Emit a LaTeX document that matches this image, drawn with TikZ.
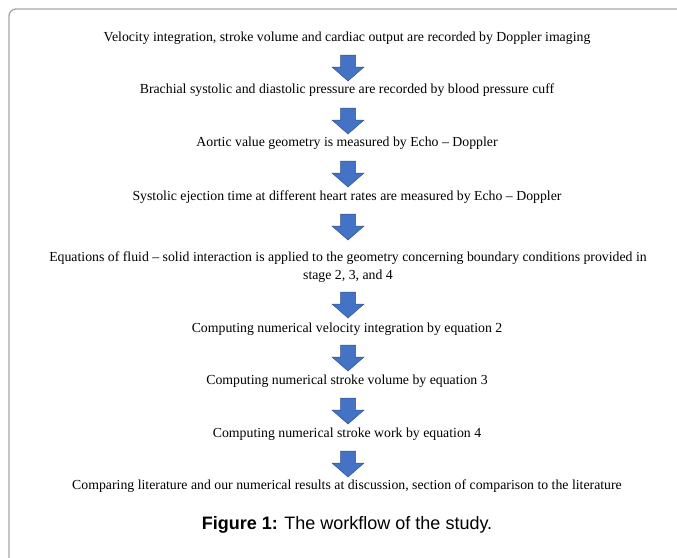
\documentclass[tikz,border=0pt]{standalone}
\usepackage{fontspec}
\setmainfont{Liberation Serif}
\newfontfamily\capfont{Liberation Sans}
\usetikzlibrary{calc}
\definecolor{arrowblue}{HTML}{4472C4}
\definecolor{arrowedge}{HTML}{2F528F}
\definecolor{framegray}{HTML}{A6A6A6}
\tikzset{
  steptext/.style={inner sep=0pt, align=center, font=\fontsize{13.8}{17.5}\selectfont, text=black},
  captext/.style={inner sep=0pt, font=\capfont\fontsize{18}{20}\selectfont},
  downarrow/.pic={
    \filldraw[fill=arrowblue, draw=arrowedge, line width=0.5pt]
      (-7.5,0) -- (7.5,0) -- (7.5,12) -- (16,12) -- (0,26) -- (-16,12) -- (-7.5,12) -- cycle;
  }
}
\begin{document}
\begin{tikzpicture}[x=1pt,y=-1pt]
\useasboundingbox (0,0) rectangle (677,557);
\draw[framegray, line width=1.3pt, rounded corners=7pt] (9,560) -- (9,9) -- (680,9);
\node[steptext] (t1) at (347,38) {Velocity integration, stroke volume and cardiac output are recorded by Doppler imaging};
\node[steptext] (t2) at (347,90) {Brachial systolic and diastolic pressure are recorded by blood pressure cuff};
\node[steptext] (t3) at (347,143) {Aortic value geometry is measured by Echo – Doppler};
\node[steptext] (t4) at (347,197) {Systolic ejection time at different heart rates are measured by Echo – Doppler};
\node[steptext] (t5) at (348,267) {Equations of fluid – solid interaction is applied to the geometry concerning boundary conditions provided in\\stage 2, 3, and 4};
\node[steptext] (t6) at (347,329) {Computing numerical velocity integration by equation 2};
\node[steptext] (t7) at (347,381) {Computing numerical stroke volume by equation 3};
\node[steptext] (t8) at (347,434) {Computing numerical stroke work by equation 4};
\node[steptext] (t9) at (347,486) {Comparing literature and our numerical results at discussion, section of comparison to the literature};
\node[captext] (cap) at (347,525) {\textbf{Figure 1:} The workflow of the study.};
\pic at (348,55) {downarrow};
\pic at (348,108) {downarrow};
\pic at (348,161) {downarrow};
\pic at (348,214) {downarrow};
\pic at (348,292) {downarrow};
\pic at (348,345) {downarrow};
\pic at (348,398) {downarrow};
\pic at (348,451) {downarrow};
\end{tikzpicture}
\end{document}
